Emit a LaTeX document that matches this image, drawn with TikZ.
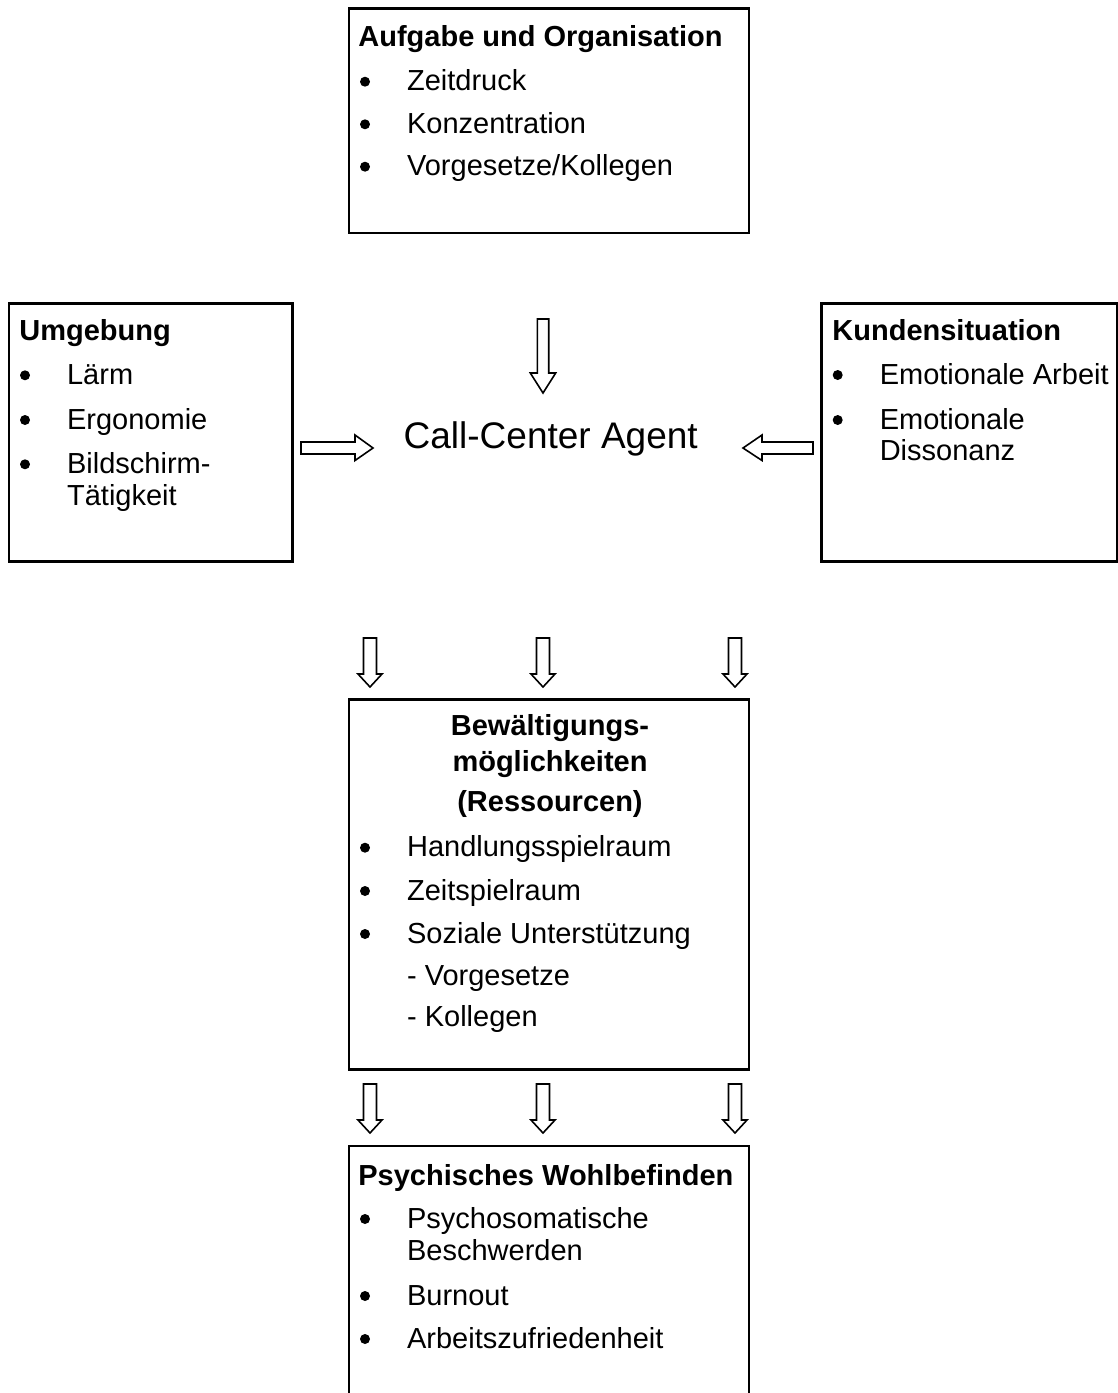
\documentclass[tikz,border=0pt]{standalone}
\usepackage{fontspec}
\setmainfont{Liberation Sans}
\begin{document}
\begin{tikzpicture}[x=0.5pt,y=-0.5pt,
  boxnode/.style={draw, line width=1.4pt, inner sep=0pt, outer sep=0pt},
  boxline/.style={line width=1.4pt},
  body/.style={inner sep=0pt, anchor=base west, font=\fontsize{14.5}{17}\selectfont},
  head/.style={inner sep=0pt, anchor=base west, font=\fontsize{14.5}{17}\selectfont\bfseries},
  headc/.style={inner sep=0pt, anchor=base, font=\fontsize{14.5}{17}\selectfont\bfseries},
  bul/.style={circle, fill, inner sep=0pt, minimum size=5pt, yshift=4.5pt},
  arrowline/.style={line width=0.8pt, line join=miter}]
\useasboundingbox (0,0) rectangle (1118,1393);

% ---------- boxes ----------
\node[boxnode, minimum width=200pt, minimum height=112.25pt] (auf) at (549,120.75) {};
\node[boxnode, minimum width=141.85pt, minimum height=129.2pt] (umg) at (150.85,432.5) {};
\node[boxnode, minimum width=147.65pt, minimum height=129.2pt] (kun) at (969.35,432.5) {};
\node[boxnode, minimum width=200pt, minimum height=185pt] (bew) at (549,884.3) {};
\coordinate (psyBL) at (349,1393);
\coordinate (psyTL) at (349,1146);
\coordinate (psyTR) at (749,1146);
\coordinate (psyBR) at (749,1393);
\draw[boxline, line join=miter] (psyBL) -- (psyTL) -- (psyTR) -- (psyBR);

% ---------- Aufgabe und Organisation ----------
\node[head] (aufh) at (358,46.7) {Aufgabe und Organisation};
\node[bul] (aufb1) at (365,90.7) {};
\node[body] (auft1) at (406.7,90.7) {Zeitdruck};
\node[bul] (aufb2) at (365,133.3) {};
\node[body] (auft2) at (406.7,133.3) {Konzentration};
\node[bul] (aufb3) at (365,175.7) {};
\node[body] (auft3) at (406.7,175.7) {Vorgesetze/Kollegen};

% ---------- Umgebung ----------
\node[head] (umgh) at (19,340) {Umgebung};
\node[bul] (umgb1) at (25,384.3) {};
\node[body] (umgt1) at (66.7,384.3) {Lärm};
\node[bul] (umgb2) at (25,429) {};
\node[body] (umgt2) at (66.7,429) {Ergonomie};
\node[bul] (umgb3) at (25,473.3) {};
\node[body] (umgt3) at (66.7,473.3) {Bildschirm-};
\node[body] (umgt4) at (66.7,505.7) {Tätigkeit};

% ---------- Kundensituation ----------
\node[head] (kunh) at (832,340) {Kundensituation};
\node[bul] (kunb1) at (837.7,384) {};
\node[body] (kunt1) at (879.4,384) {Emotionale Arbeit};
\node[bul] (kunb2) at (837.7,429) {};
\node[body] (kunt2) at (879.4,429) {Emotionale};
\node[body] (kunt3) at (879.4,460.7) {Dissonanz};

% ---------- Call-Center Agent ----------
\node[inner sep=0pt, anchor=base west, font=\fontsize{18.5}{22}\selectfont] (agent) at (403.3,448.3) {Call-Center Agent};

% ---------- Bewaeltigungsmoeglichkeiten ----------
\node[headc] (bewh1) at (550,735) {Bewältigungs-};
\node[headc] (bewh2) at (550,771) {möglichkeiten};
\node[headc] (bewh3) at (550,811.7) {(Ressourcen)};
\node[bul] (bewb1) at (365,856.7) {};
\node[body] (bewt1) at (406.7,856.7) {Handlungsspielraum};
\node[bul] (bewb2) at (365,900) {};
\node[body] (bewt2) at (406.7,900) {Zeitspielraum};
\node[bul] (bewb3) at (365,943) {};
\node[body] (bewt3) at (406.7,943) {Soziale Unterstützung};
\node[body] (bewt4) at (406.7,985) {- Vorgesetze};
\node[body] (bewt5) at (406.7,1026.7) {- Kollegen};

% ---------- Psychisches Wohlbefinden ----------
\node[head] (psyh) at (358,1185) {Psychisches Wohlbefinden};
\node[bul] (psyb1) at (365,1228) {};
\node[body] (psyt1) at (406.7,1228) {Psychosomatische};
\node[body] (psyt2) at (406.7,1260) {Beschwerden};
\node[bul] (psyb2) at (365,1305) {};
\node[body] (psyt3) at (406.7,1305) {Burnout};
\node[bul] (psyb3) at (365,1348) {};
\node[body] (psyt4) at (406.7,1348) {Arbeitszufriedenheit};

% ---------- block arrows ----------
% top (down)
\draw[arrowline] (537.3,319) -- ++(11.4,0) -- ++(0,54) -- ++(7,0) -- ++(-12.7,20) -- ++(-12.7,-20) -- ++(7,0) -- cycle;
% left (pointing right)
\draw[arrowline] (301,442) -- ++(54,0) -- ++(0,-7) -- ++(18,13) -- ++(-18,12.5) -- ++(0,-6.5) -- ++(-54,0) -- cycle;
% right (pointing left)
\draw[arrowline] (813,442) -- ++(-51,0) -- ++(0,-7) -- ++(-19,13) -- ++(19,12.5) -- ++(0,-6.5) -- ++(51,0) -- cycle;
% row 1 (down)
\foreach \cx in {370,543,735}{
  \draw[arrowline] (\cx-6.5,638) -- ++(13,0) -- ++(0,36) -- ++(5.5,0) -- ++(-12,13) -- ++(-12,-13) -- ++(5.5,0) -- cycle;
}
% row 2 (down)
\foreach \cx in {370,543,735}{
  \draw[arrowline] (\cx-6.5,1084) -- ++(13,0) -- ++(0,36) -- ++(5.5,0) -- ++(-12,13) -- ++(-12,-13) -- ++(5.5,0) -- cycle;
}
\end{tikzpicture}
\end{document}
